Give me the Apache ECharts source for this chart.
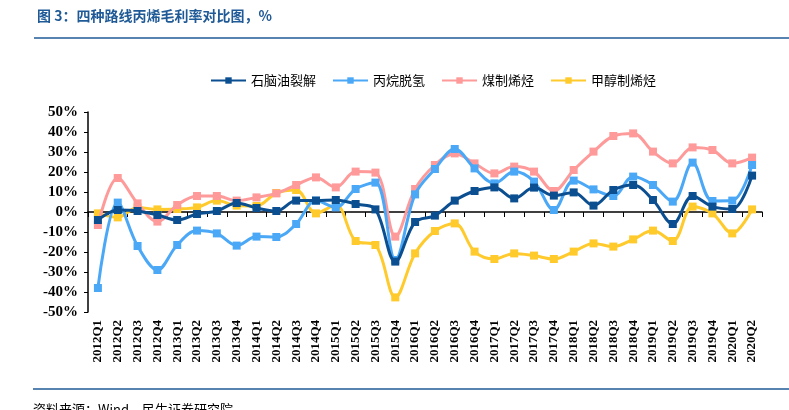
<!DOCTYPE html>
<html>
<head>
<meta charset="utf-8">
<script src="https://cdn.jsdelivr.net/npm/echarts@6/dist/echarts.min.js"></script>
<style>
html,body{margin:0;padding:0;background:#fff;}
#main{width:789px;height:410px;}
</style>
</head>
<body>
<div id="main"></div>
<script>
const categories = ['2012Q1','2012Q2','2012Q3','2012Q4','2013Q1','2013Q2','2013Q3','2013Q4','2014Q1','2014Q2','2014Q3','2014Q4','2015Q1','2015Q2','2015Q3','2015Q4','2016Q1','2016Q2','2016Q3','2016Q4','2017Q1','2017Q2','2017Q3','2017Q4','2018Q1','2018Q2','2018Q3','2018Q4','2019Q1','2019Q2','2019Q3','2019Q4','2020Q1','2020Q2'];
const naphtha = [-4,1,0.5,-1.5,-4,-1,0.5,4.5,2,0.5,5.7,5.7,6,4,1.3,-24.8,-5,-1.8,5.7,10.5,12.3,6.8,12.2,8.2,9.8,3.2,11,13.5,6,-6,8,2.7,1.5,18.2];
const pdh = [-38,4.7,-17,-29,-16.5,-9.3,-10.7,-16.8,-12.3,-12.5,-6,5.7,2.3,11.5,14.7,-24,8.8,21.5,31.5,21.8,14.3,20.2,15.2,1,15.7,11.3,8,17.7,13.5,5.2,24.7,5.5,5.7,23.5];
const ctoO = [-6.5,17,4.3,-4.8,3.5,8,8,5.7,7.3,9.3,13.5,17.3,12.3,20.2,19.7,-12.3,11.5,23.5,29.3,24.3,19.3,22.7,20.2,10.5,21,30.2,38,39.3,30.2,24.3,32.3,31,24.3,27.2];
const mto = [-0.7,-2.7,2.3,1.3,1.5,2.3,5.7,3.2,3,9.5,11,-0.7,3.5,-14.5,-16.5,-42.7,-20.7,-9.5,-5.7,-19.8,-23.5,-20.7,-21.8,-23.5,-19.8,-15.7,-17.3,-13.7,-9.3,-14.5,2.7,-0.7,-10.7,1.3];
const seriesNames = ['石脑油裂解','丙烷脱氢','煤制烯烃','甲醇制烯烃'];
const colors = ['#0b4f91','#4aa8f7','#ff9a9a','#ffca2c'];
const dataSets = [naphtha, pdh, ctoO, mto];

const chart = echarts.init(document.getElementById('main'));
const serifFont = '"Liberation Serif","DejaVu Serif",serif';
chart.setOption({
  animation:false,
  backgroundColor:'#fff',
  graphic:[
    {type:'text',left:37,top:9,style:{text:'图 3：四种路线丙烯毛利率对比图，%',font:'bold 14px "Noto Sans CJK SC"',fill:'#1f5a96'}},
    {type:'line',shape:{x1:34,y1:38,x2:789,y2:38},style:{stroke:'#1f5a96',lineWidth:1.5}},
    {type:'line',shape:{x1:33,y1:389,x2:789,y2:389},style:{stroke:'#1f5a96',lineWidth:1.5}},
    {type:'text',left:33,top:403,style:{text:'资料来源：Wind，民生证券研究院',font:'13px "Noto Sans CJK SC"',fill:'#000'}}
  ],
  legend:{
    top:69,left:205,
    itemWidth:35,itemHeight:8,itemGap:16,
    textStyle:{fontFamily:'"Noto Sans CJK SC"',fontSize:13,color:'#000'},
    data:seriesNames
  },
  grid:{left:88,right:27,top:112,bottom:98},
  xAxis:{
    type:'category',data:categories,boundaryGap:true,
    axisLine:{lineStyle:{color:'#000',width:1.5}},
    axisTick:{show:true,alignWithLabel:false,length:5,lineStyle:{color:'#000'}},
    axisLabel:{rotate:90,interval:0,fontFamily:serifFont,fontWeight:'bold',fontSize:13,color:'#000',margin:8}
  },
  yAxis:{
    type:'value',min:-50,max:50,interval:10,
    splitLine:{show:false},
    axisLine:{show:true,lineStyle:{color:'#000',width:1.5}},
    axisTick:{show:true,length:4,lineStyle:{color:'#000'}},
    axisLabel:{formatter:'{value}%',fontFamily:serifFont,fontWeight:'bold',fontSize:15,color:'#000',margin:10}
  },
  series: dataSets.map((d,i)=>({
    name:seriesNames[i],type:'line',data:d,smooth:0.35,
    symbol:'rect',symbolSize:8,
    lineStyle:{color:colors[i],width:3},
    itemStyle:{color:colors[i]},
    z:[5,4,3,2][i]
  }))
});
</script>
</body>
</html>
